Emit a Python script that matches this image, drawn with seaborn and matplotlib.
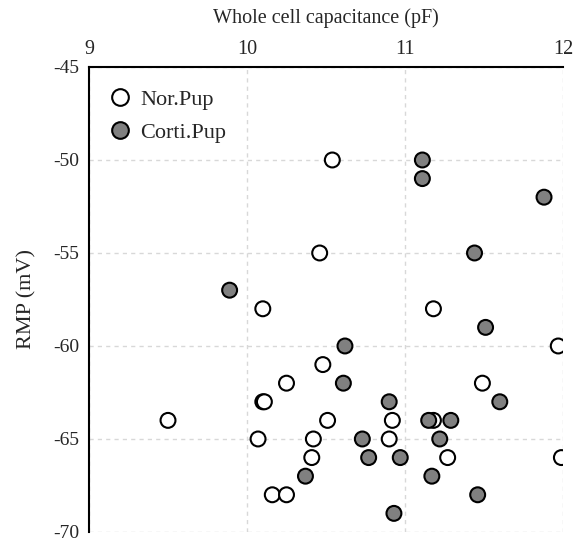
import matplotlib
matplotlib.use("Agg")
import matplotlib.pyplot as plt
import seaborn as sns
import pandas as pd
from matplotlib.lines import Line2D

nor_x = [10.54, 10.46, 10.10, 11.18, 11.97, 10.48, 10.25, 11.49, 10.10, 10.11, 9.50,
         10.51, 10.92, 11.18, 10.07, 10.42, 10.90, 10.41, 11.27, 11.99, 10.16, 10.25]
nor_y = [-50, -55, -58, -58, -60, -61, -62, -62, -63, -63, -64,
         -64, -64, -64, -65, -65, -65, -66, -66, -66, -68, -68]
cor_x = [11.11, 11.11, 11.88, 11.44, 9.89, 11.51, 10.62, 10.61, 10.90, 11.60,
         11.15, 11.29, 10.73, 11.22, 10.37, 10.77, 10.97, 11.17, 11.46, 10.93]
cor_y = [-50, -51, -52, -55, -57, -59, -60, -62, -63, -63,
         -64, -64, -65, -65, -67, -66, -66, -67, -68, -69]
groups = ["Nor.Pup", "Corti.Pup"]
x_ticks = [9, 10, 11, 12]
y_ticks = [-45, -50, -55, -60, -65, -70]

df = pd.DataFrame({
    "cap": nor_x + cor_x,
    "rmp": nor_y + cor_y,
    "group": [groups[0]] * len(nor_x) + [groups[1]] * len(cor_x),
})

sns.set_style("white")
plt.rcParams["font.family"] = ["Liberation Serif", "DejaVu Serif"]
plt.rcParams["axes.unicode_minus"] = False

fig = plt.figure(figsize=(5.81, 5.42), dpi=100)
ax = fig.add_axes([0.1532, 0.0185, 0.8158, 0.8579])

palette = {groups[0]: "white", groups[1]: "#808080"}
sns.scatterplot(data=df, x="cap", y="rmp", hue="group", palette=palette,
                hue_order=groups, s=115, edgecolor="black", linewidth=1.5,
                legend=False, ax=ax, zorder=3, alpha=1)

ax.set_xlim(9, 12)
ax.set_ylim(-70, -45)
ax.set_xticks(x_ticks)
ax.set_yticks(y_ticks)
ax.xaxis.tick_top()
ax.xaxis.set_label_position("top")
ax.set_xlabel("Whole cell capacitance (pF)", fontsize=14.5, labelpad=12)
ax.set_ylabel("RMP (mV)", fontsize=16, labelpad=12)
ax.tick_params(axis="x", length=0, labelsize=14.5, pad=6)
ax.tick_params(axis="y", length=0, labelsize=14, pad=7)
ax.grid(True, linestyle=(0, (3, 3)), color="#d8d8d8", linewidth=1)
ax.set_axisbelow(True)

for side in ["top", "left"]:
    ax.spines[side].set_visible(True)
    ax.spines[side].set_color("black")
    ax.spines[side].set_linewidth(1.5)
for side in ["right", "bottom"]:
    ax.spines[side].set_visible(False)

handles = [
    Line2D([], [], marker="o", linestyle="", markersize=12, markerfacecolor=palette[g],
           markeredgecolor="black", markeredgewidth=1.5, label=g)
    for g in groups
]
ax.legend(handles=handles, loc="upper left", bbox_to_anchor=(-0.014, 1.004),
          frameon=False, fontsize=16, handletextpad=0.3, labelspacing=0.55,
          borderaxespad=0.7, handlelength=1.2, borderpad=0.4)

fig.savefig("out.png", dpi=100)
